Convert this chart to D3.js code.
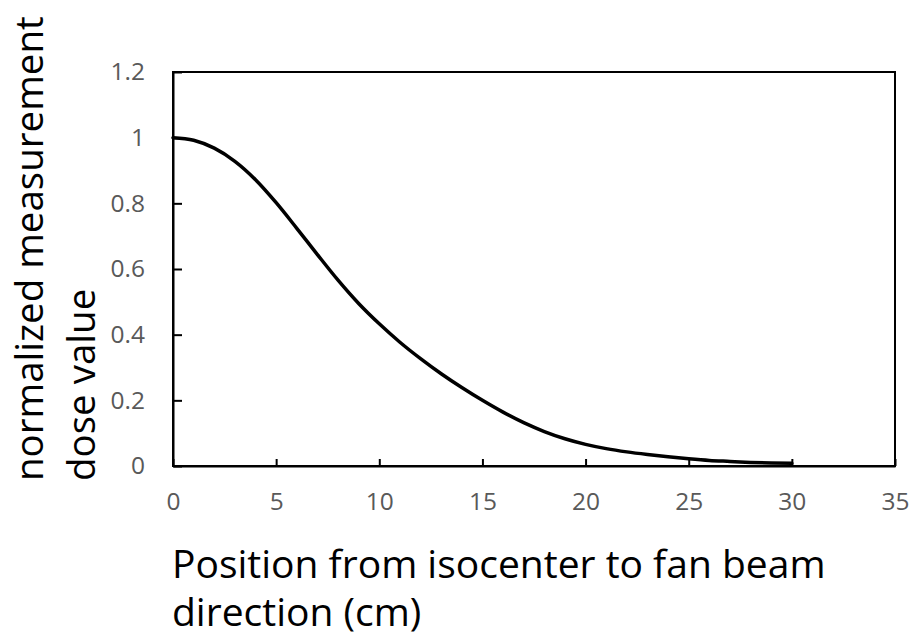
<!DOCTYPE html>
<html>
<head>
<meta charset="utf-8">
<script src="https://cdn.jsdelivr.net/npm/d3@7"></script>
<style>
  body { margin: 0; background: #fff; }
</style>
</head>
<body>
<script>
        var w = 914;
        var h = 639;

        // position (cm) and normalized dose
        var positions = [0, 1, 2, 3, 4, 5, 6, 7, 8, 9, 10, 11, 12, 13, 14, 15,
                         16, 17, 18, 19, 20, 21, 22, 23, 24, 25, 26, 27, 28, 29, 30];
        var doses = [1.0, 0.992, 0.968, 0.928, 0.872, 0.802, 0.724, 0.644, 0.566, 0.495, 0.433,
                     0.377, 0.327, 0.281, 0.239, 0.200, 0.164, 0.132, 0.105, 0.083, 0.066,
                     0.053, 0.043, 0.035, 0.028, 0.022, 0.017, 0.014, 0.011, 0.009, 0.008];

        var xTicks = [0, 5, 10, 15, 20, 25, 30, 35];
        var yTicks = [0, 0.2, 0.4, 0.6, 0.8, 1, 1.2];

        var margin = {left: 173, top: 72, right: 19, bottom: 173};

        var xScale = d3.scaleLinear()
                    .domain([0, 35])
                    .range([margin.left, w - margin.right]);

        var yScale = d3.scaleLinear()
                    .domain([0, 1.2])
                    .range([h - margin.bottom, margin.top]);

        var svg = d3.select("body").append("svg").attr("width", w).attr("height", h);

        //frame around the plot
        svg.append("rect")
            .attr("x", xScale(0))
            .attr("y", yScale(1.2))
            .attr("width", xScale(35) - xScale(0))
            .attr("height", yScale(0) - yScale(1.2))
            .attr("fill", "none")
            .attr("stroke", "#000")
            .attr("stroke-width", 2);

        //axes with inside ticks
        var fmt = d3.format("~g");

        var xAxis = svg.append("g")
            .attr("transform", "translate(0," + yScale(0) + ")")
            .call(d3.axisBottom(xScale).tickValues(xTicks).tickFormat(fmt)
                .tickSizeInner(-7).tickSizeOuter(0).tickPadding(27));

        var yAxis = svg.append("g")
            .attr("transform", "translate(" + xScale(0) + ",0)")
            .call(d3.axisLeft(yScale).tickValues(yTicks).tickFormat(fmt)
                .tickSizeInner(-9).tickSizeOuter(0).tickPadding(28));

        [xAxis, yAxis].forEach(function (g) {
            g.select(".domain").attr("stroke", "#000").attr("stroke-width", 2);
            g.selectAll(".tick line").attr("stroke", "#000").attr("stroke-width", 2);
            g.selectAll(".tick text")
                .attr("font-family", "'Open Sans', sans-serif")
                .attr("font-size", "24.5px")
                .attr("fill", "#595959");
        });

        //the dose curve
        var line = d3.line()
            .x((d, i) => xScale(positions[i]))
            .y((d) => yScale(d))
            .curve(d3.curveMonotoneX);

        svg.append("path")
            .datum(doses)
            .attr("d", line)
            .attr("fill", "none")
            .attr("stroke", "#000")
            .attr("stroke-width", 3.5)
            .attr("stroke-linecap", "round");

        //axis titles
        var xTitle = svg.append("text")
            .attr("font-family", "'Open Sans', sans-serif")
            .attr("font-size", "39px")
            .attr("fill", "#000");
        xTitle.append("tspan").attr("x", 172).attr("y", 578).text("Position from isocenter to fan beam");
        xTitle.append("tspan").attr("x", 172).attr("y", 626).text("direction (cm)");

        var yTitle = svg.append("text")
            .attr("transform", "translate(0,481) rotate(-90)")
            .attr("font-family", "'Open Sans', sans-serif")
            .attr("font-size", "38.5px")
            .attr("fill", "#000");
        yTitle.append("tspan").attr("x", 0).attr("y", 43).text("normalized measurement");
        yTitle.append("tspan").attr("x", 0).attr("y", 95).text("dose value");
</script>
</body>
</html>
